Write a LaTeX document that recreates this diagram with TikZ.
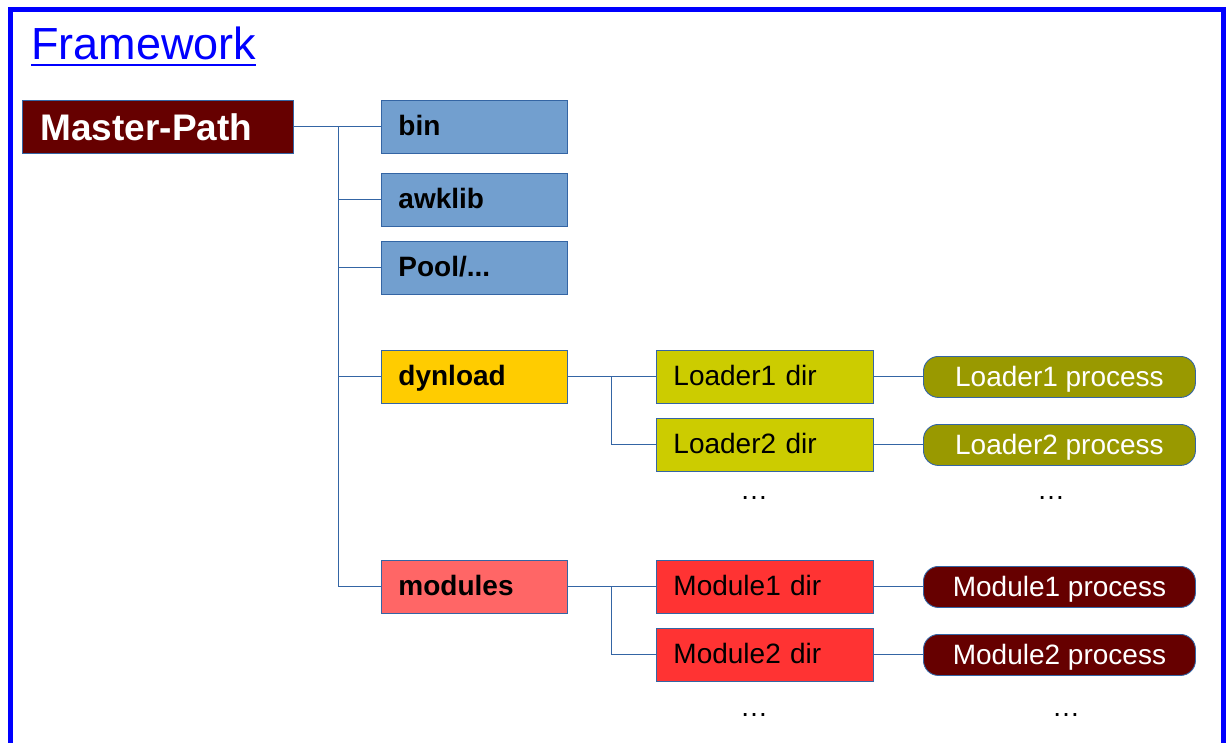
\documentclass[tikz,border=0pt]{standalone}
\usepackage{fontspec}
\setmainfont{Liberation Sans}
\definecolor{framecol}{RGB}{0,0,255}
\definecolor{edgecol}{RGB}{52,101,164}
\definecolor{mastercol}{RGB}{102,0,0}
\definecolor{dircol}{RGB}{114,159,207}
\definecolor{dyncol}{RGB}{255,204,0}
\definecolor{modcol}{RGB}{255,102,102}
\definecolor{ldircol}{RGB}{204,204,0}
\definecolor{mdircol}{RGB}{255,51,51}
\definecolor{lproccol}{RGB}{153,153,0}
\definecolor{mproccol}{RGB}{102,0,0}
\tikzset{
  box/.style={draw=edgecol, line width=0.9pt, anchor=north west, inner ysep=0pt, inner xsep=17pt, minimum height=53pt, text height=20pt, text depth=3pt, align=left, font=\fontsize{28}{30}\selectfont},
  lvlone/.style={box, text width=152pt, font=\fontsize{28}{30}\selectfont\bfseries},
  lvltwo/.style={box, text width=183pt},
  procbox/.style={draw=edgecol, line width=0.9pt, anchor=north west, rounded corners=15pt, minimum width=272pt, minimum height=41pt, inner sep=0pt, text height=19pt, text depth=0pt, text=white, font=\fontsize{28}{30}\selectfont},
  conn/.style={draw=edgecol, line width=1pt},
  dots/.style={font=\fontsize{28}{30}\selectfont, anchor=base}
}
\begin{document}
\begin{tikzpicture}[x=1pt,y=-1pt]
\useasboundingbox (0,0) rectangle (1226,743);
\begin{scope}
\clip (0,0) rectangle (1226,743);
\draw[framecol, line width=5pt] (10.5,9.5) rectangle (1223,770);
\end{scope}
% title
\node[anchor=base west, inner sep=0pt, text=framecol, font=\fontsize{45}{48}\selectfont] (title) at (31,60) {Framework};
\draw[framecol, line width=2pt] ([yshift=-5pt]title.base west) -- ([yshift=-5pt]title.base east);
% master
\node[box, fill=mastercol, text=white, inner xsep=18pt, text width=235pt, text height=27pt, text depth=0pt, font=\fontsize{37}{40}\selectfont\bfseries] (master) at (22,100) {Master-Path};
% first level
\node[lvlone, fill=dircol] (bin) at (381,100) {bin};
\node[lvlone, fill=dircol] (awklib) at (381,173) {awklib};
\node[lvlone, fill=dircol] (pool) at (381,241) {Pool/...};
\node[lvlone, fill=dyncol] (dynload) at (381,350) {dynload};
\node[lvlone, fill=modcol] (modules) at (381,560) {modules};
% second level
\node[lvltwo, fill=ldircol] (l1) at (656,350) {Loader1 dir};
\node[lvltwo, fill=ldircol] (l2) at (656,418) {Loader2 dir};
\node[lvltwo, fill=mdircol] (m1) at (656,560) {Module1 dir};
\node[lvltwo, fill=mdircol] (m2) at (656,628) {Module2 dir};
% processes
\node[procbox, fill=lproccol] (lp1) at (923,356) {Loader1 process};
\node[procbox, fill=lproccol] (lp2) at (923,424) {Loader2 process};
\node[procbox, fill=mproccol] (mp1) at (923,566) {Module1 process};
\node[procbox, fill=mproccol] (mp2) at (923,634) {Module2 process};
% dots
\node[dots] (d1) at (754,499) {…};
\node[dots] (d2) at (1051,499) {…};
\node[dots] (d3) at (754,716) {…};
\node[dots] (d4) at (1066,716) {…};
% connectors
\coordinate (t0) at (338,126.5);
\draw[conn] (master.east) -- (bin.west);
\draw[conn] (t0) |- (awklib.west);
\draw[conn] (t0) |- (pool.west);
\draw[conn] (t0) |- (dynload.west);
\draw[conn] (t0) |- (modules.west);
\coordinate (t1) at (611,376.5);
\draw[conn] (dynload.east) -- (l1.west);
\draw[conn] (t1) |- (l2.west);
\coordinate (t2) at (611,586.5);
\draw[conn] (modules.east) -- (m1.west);
\draw[conn] (t2) |- (m2.west);
\draw[conn] (l1.east) -- (lp1.west);
\draw[conn] (l2.east) -- (lp2.west);
\draw[conn] (m1.east) -- (mp1.west);
\draw[conn] (m2.east) -- (mp2.west);
\end{tikzpicture}
\end{document}
